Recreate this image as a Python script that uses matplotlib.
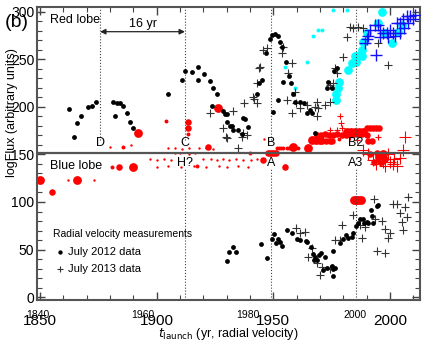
import matplotlib
matplotlib.use("Agg")
import matplotlib.pyplot as plt
from matplotlib.ticker import MultipleLocator
import numpy as np

plt.rcParams['font.family'] = ['Liberation Sans', 'DejaVu Sans']

# July 2012 radial velocity data (dots)
dots_yr = [1862.4, 1864.6, 1865.9, 1867.6, 1870.6, 1872.3, 1874.0,
           1881.3, 1882.1, 1883.0, 1884.3, 1885.6, 1887.3, 1888.6, 1889.9,
           1904.9, 1910.9, 1912.1, 1915.1, 1917.7, 1917.7, 1920.3, 1922.9, 1924.1, 1925.9, 1923.7,
           1928.4, 1930.1, 1931.4, 1932.3, 1932.7, 1934.9, 1937.9, 1936.6, 1929.3, 1930.1, 1937.0, 1939.1,
           1943.0, 1943.9, 1945.1, 1946.9, 1948.6, 1949.4, 1950.7, 1952.0, 1952.9, 1953.7, 1949.9, 1952.0,
           1955.4, 1956.7, 1957.6, 1958.4, 1959.3, 1961.4, 1963.0, 1964.4, 1965.7, 1966.6, 1967.9, 1954.1,
           1973.0, 1973.4, 1975.1, 1976.0, 1977.3,
           1930.1, 1931.0, 1932.7, 1934.0, 1944.7, 1947.3, 1949.4, 1950.3, 1951.1, 1952.0, 1952.9, 1953.7,
           1955.9, 1958.0, 1960.1, 1961.4, 1964.0, 1964.4, 1966.1, 1967.0, 1967.9, 1968.7, 1969.6, 1970.4,
           1972.1, 1967.4, 1975.6, 1971.3, 1973.0, 1975.1, 1975.6, 1976.4, 1975.6, 1978.6, 1979.9, 1981.1,
           1982.0, 1983.7, 1984.1, 1985.4, 1986.3, 1987.1, 1988.4, 1988.9, 1990.1, 1992.3, 1994.4, 1994.9,
           1991.9, 1990.6, 1992.7]
dots_val = [198, 168, 183, 190, 200, 201, 205,
            205, 190, 204, 204, 201, 194, 184, 178,
            214, 228, 238, 237, 242, 228, 235, 227, 220, 213, 201,
            196, 193, 180, 180, 176, 176, 187, 171, 192, 184, 188, 179,
            214, 225, 228, 257, 271, 276, 277, 275, 268, 263, 195, 207,
            247, 232, 225, 213, 205, 205, 204, 194, 197, 194, 173, 226,
            220, 226, 220, 238, 241,
            38, 47, 53, 47, 56, 41, 61, 66, 57, 61, 58, 54,
            71, 67, 61, 60, 59, 58, 53, 45, 42, 39, 44, 46,
            42, 39, 48, 28, 31, 33, 30, 31, 22, 57, 61, 65,
            62, 63, 67, 75, 78, 82, 82, 78, 79, 85, 96, 97,
            92, 78, 78]

# July 2013 radial velocity data (crosses)
plus_yr = [1922.9, 1932.7, 1928.4, 1930.1, 1934.9, 1937.0, 1938.7, 1937.4, 1941.7, 1943.0, 1943.0,
           1944.3, 1945.6, 1947.3, 1953.7, 1943.9, 1958.0, 1956.3, 1941.3, 1929.7, 1936.6, 1955.9,
           1959.7, 1961.4, 1964.4, 1968.7, 1969.1, 1972.1, 1974.3, 1974.3, 1975.6, 1977.3, 1979.9,
           1981.6, 1982.9, 1984.2, 1986.3, 1988.4, 1999.1, 1954.1, 1959.3, 1958.0, 1967.9, 1968.7,
           1976.4, 1994.9,
           1959.7, 1961.4, 1963.6, 1964.9, 1966.6, 1968.7, 1970.9, 1970.0, 1974.3, 1976.4, 1978.6,
           1979.4, 1984.1, 1987.1, 1988.0, 1989.3, 1993.6, 1996.6, 1997.9, 1999.1, 2000.0, 1994.4,
           1997.9, 2001.3, 2003.0, 2006.4, 2004.3, 2005.2, 2005.6, 2007.3, 2007.7, 1993.2]
plus_val = [194, 196, 178, 167, 157, 172, 170, 204, 208, 225, 204,
            242, 260, 262, 257, 241, 246, 236, 210, 168, 168, 207,
            204, 199, 202, 205, 199, 202, 205, 223, 225, 236, 252,
            273, 284, 283, 284, 283, 244, 263, 216, 194, 200, 190,
            241, 267,
            73, 67, 68, 42, 52, 36, 32, 23, 30, 60, 60,
            76, 86, 76, 62, 74, 82, 80, 72, 62, 67, 48,
            46, 98, 98, 95, 88, 79, 71, 84, 105, 103]

# cyan circles (large and small)
cyan_yr = [1978.1, 1977.7, 1976.9, 1976.9, 1982.0, 1983.7, 1985.0, 1986.3, 1988.0, 1985.4,
           1988.0, 1988.4, 1990.2, 1994.9, 1996.6, 1997.9, 2000.9, 2003.4, 2005.2]
cyan_val = [226, 220, 213, 207, 239, 246, 253, 253, 253, 247,
            260, 268, 278, 288, 300, 278, 267, 279, 286]
cyan_small_yr = [1969.1, 1970.9, 1964.4, 1959.3, 1975.6, 1981.6, 1967.0, 1955.0]
cyan_small_val = [281, 281, 247, 220, 302, 302, 274, 242]

# blue crosses
blue_yr = [1989.3, 1990.6, 1991.4, 1993.6, 1994.9, 1995.7, 1997.0, 1998.7, 2000.0, 2001.3,
           2003.0, 2004.3, 2005.6, 2007.3, 2008.6, 2009.9, 2010.7, 2002.1, 2004.3, 1999.1,
           1995.7, 1990.1, 1994.0, 2008.0, 2006.0]
blue_val = [267, 274, 281, 286, 286, 281, 278, 278, 281, 278,
            288, 288, 292, 295, 296, 292, 297, 274, 278, 273,
            273, 271, 254, 288, 283]

# red circles, grouped by symbol size
red_big_yr = [1892.0, 1926.3, 1964.9, 1850.0, 1865.9, 1889.9, 1958.4,
              1966.6, 1968.3, 1970.0, 1981.6, 1983.3, 1985.0, 1986.7, 1988.4,
              1984.5, 1985.5, 1986.5, 1987.5, 1995.3, 1996.1, 1997.0]
red_big_val = [172, 199, 157, 123, 123, 137, 158,
               165, 165, 165, 174, 174, 174, 174, 174,
               102, 102, 102, 102, 147, 143, 150]
red_mid_yr = [1913.4, 1913.4, 1855.1, 1883.9, 1955.0, 1945.6, 1922.0,
              1947.7, 1948.6, 1949.4, 1950.3, 1951.1,
              1971.0, 1972.6, 1974.3, 1975.2,
              1968.7, 1970.5, 1972.3, 1974.0, 1975.8, 1977.5, 1979.3, 1981.0, 1982.8, 1984.5,
              1986.3, 1988.0, 1990.0,
              1990.1, 1991.4, 1992.7, 1994.0, 1995.3,
              1994.4, 1997.9, 1991.4, 1993.2, 1990.6, 1992.3]
red_mid_val = [184, 178, 110, 137, 137, 144, 158,
               151, 151, 152, 152, 151,
               164, 164, 164, 164,
               170, 170, 171, 170, 170, 171, 170, 170, 171, 171,
               171, 171, 170,
               178, 178, 178, 178, 178,
               152, 145, 150, 142, 164, 164]
red_small_yr = [1904.0, 1913.4, 1885.6, 1880.9, 1917.3, 1951.6, 1952.5, 1953.3, 1954.2,
                1955.9, 1956.7, 1957.6, 1959.3, 1960.5, 1866.5, 1955.0, 1940.0, 1978.0]
red_small_val = [185, 171, 158, 137, 138, 157, 157, 157, 157,
                 157, 157, 157, 157, 157, 123, 138, 152, 166]
red_tiny_yr = [1873.1, 1889.0, 1897.0, 1900.1, 1903.0, 1906.0, 1907.9, 1910.0, 1914.0, 1916.5,
               1920.0, 1923.3, 1926.0, 1928.5, 1931.0, 1934.0, 1937.0, 1940.5, 1943.0,
               1900.0, 1905.0, 1910.5, 1916.0, 1921.0, 1926.5, 1930.1, 1935.0, 1939.0,
               1905.0, 1908.0, 1911.0, 1914.0, 1918.0, 1921.0, 1924.0, 1946.0, 1880.0, 1862.0]
red_tiny_val = [123, 160, 145, 144, 145, 144, 151, 151, 150, 151,
                145, 145, 144, 145, 144, 145, 144, 144, 145,
                137, 138, 137, 138, 137, 138, 137, 138, 137,
                157, 157, 156, 157, 157, 157, 156, 166, 158, 123]

# red crosses
red_plus_yr = [1978.6, 1979.0, 1979.4, 1977.3, 1974.3, 1994.9, 1981.6, 1986.0, 1983.0]
red_plus_val = [190, 183, 178, 176, 176, 168, 170, 165, 168]
red_plus_big_yr = [2006.4, 1988.4, 1990.6, 1992.7, 1995.7, 1997.0, 2000.0, 2002.0, 2004.3,
                   2005.6, 1999.0, 2001.3, 2003.0, 1998.0, 1994.0]
red_plus_big_val = [168, 155, 150, 144, 144, 142, 142, 145, 146,
                    155, 150, 140, 138, 138, 140]

# event epochs (dotted lines) and labels
ev_top = [("D", 1875.7), ("C", 1912.1), ("B", 1949.0), ("B2", 1985.4)]
ev_bot = [("H?", 1912.1), ("A", 1949.0), ("A3", 1985.4)]
split_val = 151

fig = plt.figure(figsize=(4.32, 3.48), dpi=100)
ax = fig.add_axes([0.086, 0.138, 0.886, 0.842])

ax.scatter(red_tiny_yr, red_tiny_val, s=3, color='red', lw=0, zorder=2)
ax.scatter(red_small_yr, red_small_val, s=8, color='red', lw=0, zorder=2)
ax.scatter(red_mid_yr, red_mid_val, s=22, color='red', lw=0, zorder=2)
ax.scatter(red_big_yr, red_big_val, s=40, color='red', lw=0, zorder=2)
ax.scatter(red_plus_yr, red_plus_val, s=22, marker='+', color='red', lw=0.8, zorder=2)
ax.scatter(red_plus_big_yr, red_plus_big_val, s=70, marker='+', color='red', lw=0.8, zorder=2)
ax.scatter(cyan_small_yr, cyan_small_val, s=8, color='cyan', lw=0, zorder=2)
ax.scatter(cyan_yr, cyan_val, s=40, color='cyan', lw=0, zorder=2)
ax.scatter(blue_yr, blue_val, s=70, marker='+', color='#1010ff', lw=1.0, zorder=3)
h13 = ax.scatter(plus_yr, plus_val, s=30, marker='+', color='#333333', lw=0.8, zorder=4)
h12 = ax.scatter(dots_yr, dots_val, s=12, color='black', lw=0, zorder=4)

ax.axhline(split_val, color='#555555', lw=1.6, zorder=5)
for name, yr in ev_top:
    ax.axvline(yr, ymin=(165 + 3) / 308, ymax=1, color='#444444', ls=':', lw=0.8)
    ax.text(yr, 162, name, ha='center', va='center', fontsize=9)
for name, yr in ev_bot:
    ax.axvline(yr, ymin=0, ymax=(135 + 3) / 308, color='#444444', ls=':', lw=0.8)
    ax.text(yr, 141, name, ha='center', va='center', fontsize=9)

ax.annotate('', xy=(ev_top[0][1], 279), xytext=(ev_top[1][1], 279),
            arrowprops=dict(arrowstyle='<|-|>', color='#222222', lw=0.9,
                            mutation_scale=8, shrinkA=0, shrinkB=0))
ax.text((ev_top[0][1] + ev_top[1][1]) / 2, 287, '16 yr', ha='center', va='center', fontsize=9)
ax.text(1854.3, 291, 'Red lobe', ha='left', va='center', fontsize=9)
ax.text(1854.3, 138, 'Blue lobe', ha='left', va='center', fontsize=9)

leg = ax.legend([h12, h13], ['July 2012 data', 'July 2013 data'],
                title='Radial velocity measurements', loc='upper left',
                bbox_to_anchor=(0.015, 0.275), frameon=False, fontsize=8,
                title_fontsize=7.5, handletextpad=0.2, handlelength=1.2,
                labelspacing=0.65, alignment='left', markerscale=0.9)

ax.set_xlim(1848.7, 2012.9)
ax.set_ylim(-3, 305)
ax.xaxis.set_major_locator(MultipleLocator(50))
ax.xaxis.set_minor_locator(MultipleLocator(10))
ax.yaxis.set_major_locator(MultipleLocator(50))
ax.yaxis.set_minor_locator(MultipleLocator(10))
ax.tick_params(which='both', direction='in', top=True, right=True, colors='#444444',
               labelcolor='black')
ax.tick_params(which='major', length=6, width=1.0)
ax.tick_params(which='minor', length=3.5, width=0.8)
ax.tick_params(axis='x', labelsize=11, pad=10)
ax.tick_params(axis='y', labelsize=10, pad=2)
for sp in ax.spines.values():
    sp.set_color('#555555')
    sp.set_linewidth(1.5)

# second set of (overlaid) year labels
sec = ax.secondary_xaxis('bottom')
sec.set_xticks([1849.1, 1894.2, 1939.3, 1985.2], labels=['1840', '1960', '1980', '2000'])
sec.tick_params(length=0, labelsize=7.5, pad=7)
sec.spines['bottom'].set_visible(False)

ax.set_ylabel('logFlux (arbitrary units)', fontsize=9)
ax.yaxis.set_label_coords(-0.05, 0.64)
ax.set_xlabel(r'$t_{\rm launch}$ (yr, radial velocity)', fontsize=9, labelpad=-1)
fig.text(0.012, 0.935, '(b)', fontsize=14, va='center', ha='left')

fig.savefig('out.png', dpi=100)
